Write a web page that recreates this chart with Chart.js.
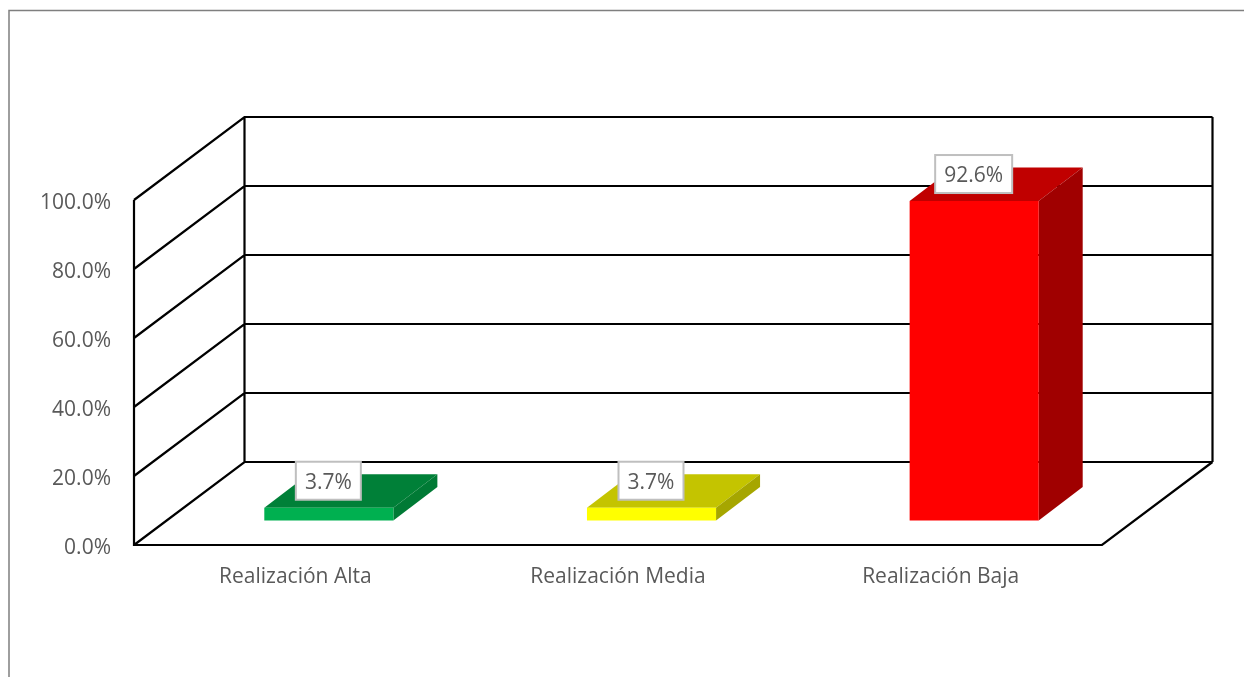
<!DOCTYPE html>
<html>
<head>
<meta charset="utf-8">
<style>
html,body{margin:0;padding:0;background:#fff;overflow:hidden}
#wrap{position:absolute;left:0;top:0;width:1244px;height:677px}
</style>
<script src="https://cdn.jsdelivr.net/npm/chart.js@4"></script>
</head>
<body>
<div id="wrap"><canvas id="c" width="1244" height="677"></canvas></div>
<script>
const categories = ["Realización Alta", "Realización Media", "Realización Baja"];
const seriesValues = [3.7, 3.7, 92.6];
const frontColors = ["#00B050", "#FFFF00", "#FF0000"];
const topColors = ["#008038", "#C4C400", "#C00000"];
const sideColors = ["#007A35", "#A6A600", "#A00000"];
const yTicks = [0, 20, 40, 60, 80, 100];

const FONT = '"Open Sans", sans-serif';
const TEXT = "#595959";
const WALL = {dx: 110.5, dy: 83};
const BAR_SHIFT = {dx: 33.5, dy: -24.5};
const BAR_DEPTH = {dx: 44, dy: 33.5};

const fmt = v => Number(v).toFixed(1) + "%";

const plugin3d = {
  id: "plugin3d",
  beforeDraw(chart) {
    const ctx = chart.ctx;
    ctx.save();
    ctx.strokeStyle = "#7f7f7f";
    ctx.lineWidth = 1.5;
    ctx.strokeRect(9, 10.5, 1400, 900);
    ctx.restore();
  },
  beforeDatasetsDraw(chart) {
    const {ctx, scales: {x, y}} = chart;
    const L = x.left, R = x.right, B = y.getPixelForValue(0), T = y.getPixelForValue(100);
    ctx.save();
    ctx.strokeStyle = "#000";
    ctx.lineWidth = 2.2;
    ctx.lineCap = "butt";
    ctx.lineJoin = "miter";
    ctx.beginPath();
    yTicks.forEach(t => {
      const py = y.getPixelForValue(t);
      ctx.moveTo(L, py);
      ctx.lineTo(L + WALL.dx, py - WALL.dy);
      ctx.lineTo(R + WALL.dx, py - WALL.dy);
    });
    ctx.moveTo(L, T); ctx.lineTo(L, B); ctx.lineTo(R, B); ctx.lineTo(R + WALL.dx, B - WALL.dy);
    ctx.moveTo(L + WALL.dx, T - WALL.dy); ctx.lineTo(L + WALL.dx, B - WALL.dy);
    ctx.moveTo(R + WALL.dx, T - WALL.dy); ctx.lineTo(R + WALL.dx, B - WALL.dy);
    ctx.stroke();
    ctx.restore();

    // Shift the bars into the depth of the floor
    ctx.save();
    ctx.translate(BAR_SHIFT.dx, BAR_SHIFT.dy);
    chart.getDatasetMeta(0).data.forEach((bar, i) => {
      const p = bar.getProps(["x", "y", "base", "width"], true);
      const l = p.x - p.width / 2, r = p.x + p.width / 2;
      ctx.fillStyle = topColors[i];
      ctx.beginPath();
      ctx.moveTo(l, p.y); ctx.lineTo(l + BAR_DEPTH.dx, p.y - BAR_DEPTH.dy);
      ctx.lineTo(r + BAR_DEPTH.dx, p.y - BAR_DEPTH.dy); ctx.lineTo(r, p.y);
      ctx.closePath(); ctx.fill();
      ctx.fillStyle = sideColors[i];
      ctx.beginPath();
      ctx.moveTo(r, p.y); ctx.lineTo(r + BAR_DEPTH.dx, p.y - BAR_DEPTH.dy);
      ctx.lineTo(r + BAR_DEPTH.dx, p.base - BAR_DEPTH.dy); ctx.lineTo(r, p.base);
      ctx.closePath(); ctx.fill();
    });
  },
  afterDatasetsDraw(chart) {
    const ctx = chart.ctx;
    ctx.restore();
    ctx.save();
    ctx.font = "21px " + FONT;
    ctx.textAlign = "center";
    ctx.textBaseline = "middle";
    chart.getDatasetMeta(0).data.forEach((bar, i) => {
      const p = bar.getProps(["x", "y"], true);
      const txt = fmt(seriesValues[i]);
      const w = Math.round(ctx.measureText(txt).width) + 18;
      const cx = p.x + BAR_SHIFT.dx - 0.5, cy = p.y + BAR_SHIFT.dy - 27;
      ctx.fillStyle = "#fff";
      ctx.strokeStyle = "#BFBFBF";
      ctx.lineWidth = 2;
      ctx.fillRect(cx - w / 2, cy - 19, w, 38);
      ctx.strokeRect(cx - w / 2, cy - 19, w, 38);
      ctx.fillStyle = TEXT;
      ctx.fillText(txt, cx, cy + 2);
    });
    ctx.restore();
  }
};

function shiftLabels(scale, dy) {
  const draw = scale.drawLabels;
  scale.drawLabels = function (area) {
    this.ctx.save();
    this.ctx.translate(0, dy);
    draw.call(this, area);
    this.ctx.restore();
  };
}

new Chart(document.getElementById("c"), {
  type: "bar",
  data: {
    labels: categories,
    datasets: [{
      data: seriesValues,
      backgroundColor: frontColors,
      borderWidth: 0,
      barPercentage: 0.4,
      categoryPercentage: 1,
      clip: false
    }]
  },
  plugins: [plugin3d],
  options: {
    responsive: false,
    animation: false,
    events: [],
    layout: {padding: {top: 200, right: 142, left: 0, bottom: 0}},
    plugins: {legend: {display: false}, tooltip: {enabled: false}, title: {display: false}},
    scales: {
      x: {
        border: {display: false},
        grid: {display: false, drawTicks: false},
        ticks: {color: TEXT, font: {family: FONT, size: 21}, padding: 19, maxRotation: 0},
        afterFit(s) { s.height = 132; }
      },
      y: {
        min: 0, max: 100,
        border: {display: false},
        grid: {display: false, drawTicks: false},
        afterBuildTicks(s) { s.ticks = yTicks.map(v => ({value: v})); },
        ticks: {color: TEXT, font: {family: FONT, size: 21}, padding: 23, callback: v => fmt(v)},
        afterFit(s) { s.width = 134; if (!s._shifted) { shiftLabels(s, 3); s._shifted = true; } }
      }
    }
  }
});
</script>
</body>
</html>
